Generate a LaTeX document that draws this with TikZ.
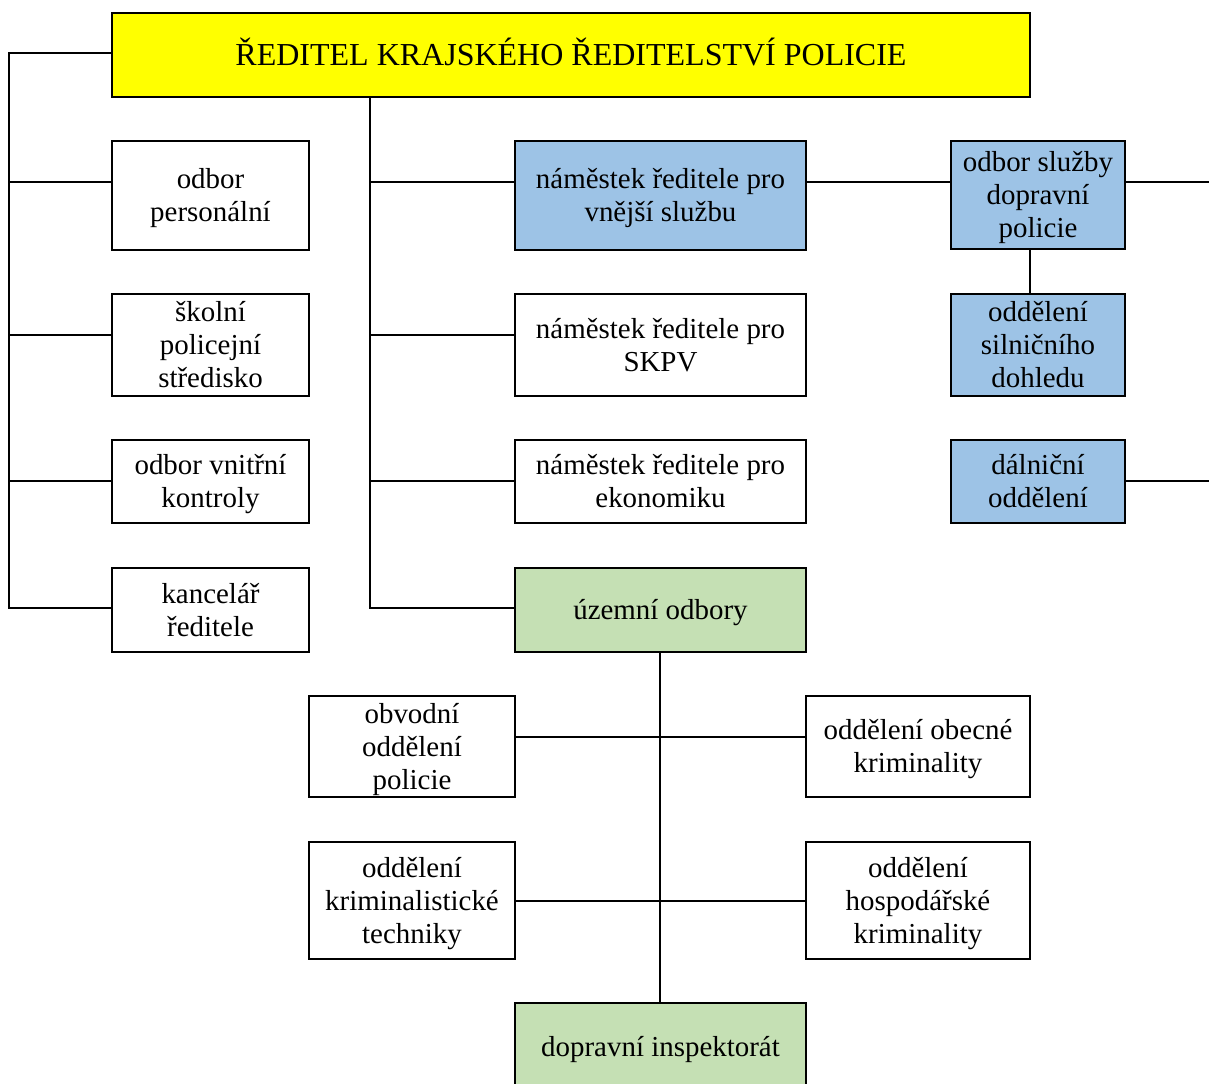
\documentclass[tikz,border=0pt]{standalone}
\usepackage{fontspec}
\setmainfont{Liberation Serif}
\definecolor{boxyellow}{HTML}{FFFF00}
\definecolor{boxblue}{HTML}{9DC3E6}
\definecolor{boxgreen}{HTML}{C5E0B4}
\newcommand{\boxtext}[2][2.25pt]{\raisebox{0pt}[\dimexpr\height+#1\relax][\dimexpr\depth-#1\relax]{\begin{tabular}{@{}c@{}}#2\end{tabular}}}
\tikzset{
  orgbox/.style={draw, line width=1.6pt, inner sep=0pt,
    font=\fontsize{21.7pt}{24.75pt}\selectfont},
  titlebox/.style={draw, line width=1.6pt, inner sep=0pt,
    font=\fontsize{24pt}{28pt}\selectfont},
  conn/.style={line width=1.6pt},
}
\begin{document}
\begin{tikzpicture}[x=0.75pt,y=-0.75pt]
\useasboundingbox (0,0) rectangle (1209,1084);
% title
\node[titlebox, fill=boxyellow, minimum width=688.5pt, minimum height=63pt] (T) at (571,55) {\boxtext[1.5pt]{ŘEDITEL KRAJSKÉHO ŘEDITELSTVÍ POLICIE}};
% left column
\node[orgbox, minimum width=147.75pt, minimum height=81.75pt] (L1) at (210.5,195.5) {\boxtext{odbor\\personální}};
\node[orgbox, minimum width=147.75pt, minimum height=76.5pt] (L2) at (210.5,345) {\boxtext{školní\\policejní\\středisko}};
\node[orgbox, minimum width=147.75pt, minimum height=62.25pt] (L3) at (210.5,481.5) {\boxtext{odbor vnitřní\\kontroly}};
\node[orgbox, minimum width=147.75pt, minimum height=63pt] (L4) at (210.5,610) {\boxtext{kancelář\\ředitele}};
% middle column
\node[orgbox, fill=boxblue, minimum width=218.25pt, minimum height=81.75pt] (M1) at (660.5,195.5) {\boxtext{náměstek ředitele pro\\vnější službu}};
\node[orgbox, minimum width=218.25pt, minimum height=76.5pt] (M2) at (660.5,345) {\boxtext{náměstek ředitele pro\\SKPV}};
\node[orgbox, minimum width=218.25pt, minimum height=62.25pt] (M3) at (660.5,481.5) {\boxtext{náměstek ředitele pro\\ekonomiku}};
\node[orgbox, fill=boxgreen, minimum width=218.25pt, minimum height=63pt] (M4) at (660.5,610) {\boxtext{územní odbory}};
% right column
\node[orgbox, fill=boxblue, minimum width=130.5pt, minimum height=81pt] (R1) at (1038,195) {\boxtext{odbor služby\\dopravní\\policie}};
\node[orgbox, fill=boxblue, minimum width=130.5pt, minimum height=76.5pt] (R2) at (1038,345) {\boxtext{oddělení\\silničního\\dohledu}};
\node[orgbox, fill=boxblue, minimum width=130.5pt, minimum height=62.25pt] (R3) at (1038,481.5) {\boxtext{dálniční\\oddělení}};
% bottom
\node[orgbox, minimum width=154.5pt, minimum height=75.75pt] (B1) at (412,746.5) {\boxtext{obvodní\\oddělení\\policie}};
\node[orgbox, minimum width=168pt, minimum height=75.75pt] (B2) at (918,746.5) {\boxtext{oddělení obecné\\kriminality}};
\node[orgbox, minimum width=154.5pt, minimum height=87.75pt] (B3) at (412,900.5) {\boxtext{oddělení\\kriminalistické\\techniky}};
\node[orgbox, minimum width=168pt, minimum height=87.75pt] (B4) at (918,900.5) {\boxtext{oddělení\\hospodářské\\kriminality}};
\node[orgbox, fill=boxgreen, minimum width=218.25pt, minimum height=66pt] (B5) at (660.5,1047) {\boxtext{dopravní inspektorát}};
% coordinates
\coordinate (lt) at (9,53);
\coordinate (lj1) at (9,182);
\coordinate (lj2) at (9,335);
\coordinate (lj3) at (9,481);
\coordinate (lj4) at (9,608);
\coordinate (m0) at (370,97);
\coordinate (mj1) at (370,182);
\coordinate (mj2) at (370,335);
\coordinate (mj3) at (370,481);
\coordinate (mj4) at (370,608);
\coordinate (re1) at (1209,182);
\coordinate (re3) at (1209,481);
\coordinate (rv) at (1030,249);
\coordinate (bj1) at (660,737);
\coordinate (bj2) at (660,901);
% connectors
\draw[conn] (lt -| T.west) -- (lt) -- (lj4) -- (lj4 -| L4.west);
\draw[conn] (lj1) -- (lj1 -| L1.west);
\draw[conn] (lj2) -- (lj2 -| L2.west);
\draw[conn] (lj3) -- (lj3 -| L3.west);
\draw[conn] (m0) -- (mj4) -- (mj4 -| M4.west);
\draw[conn] (mj1) -- (mj1 -| M1.west);
\draw[conn] (mj2) -- (mj2 -| M2.west);
\draw[conn] (mj3) -- (mj3 -| M3.west);
\draw[conn] (mj1 -| M1.east) -- (mj1 -| R1.west);
\draw[conn] (mj1 -| R1.east) -- (re1);
\draw[conn] (rv) -- (rv |- R2.north);
\draw[conn] (mj3 -| R3.east) -- (re3);
\draw[conn] (bj1 |- M4.south) -- (bj1 |- B5.north);
\draw[conn] (bj1 -| B1.east) -- (bj1 -| B2.west);
\draw[conn] (bj2 -| B3.east) -- (bj2 -| B4.west);
\end{tikzpicture}
\end{document}
